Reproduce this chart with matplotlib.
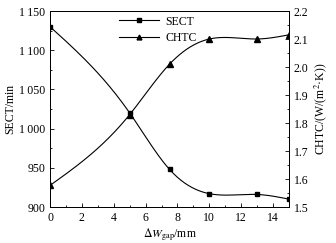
import matplotlib
matplotlib.use("Agg")
import matplotlib.pyplot as plt
import numpy as np
from matplotlib.ticker import MultipleLocator, FuncFormatter

plt.rcParams['font.family'] = ['Liberation Serif', 'DejaVu Serif']
plt.rcParams['mathtext.fontset'] = 'stix'
plt.rcParams['font.size'] = 8.5

# data
gap = [0, 5, 7.5, 10, 13, 15]
sect = [1130, 1020, 948, 917, 916, 910]
chtc = [1.577, 1.83, 2.01, 2.1, 2.1, 2.115]


def smooth(x, y, n=200):
    # natural cubic spline, only for drawing the curve
    x = np.asarray(x, float)
    y = np.asarray(y, float)
    k = len(x)
    h = np.diff(x)
    A = np.zeros((k, k))
    b = np.zeros(k)
    A[0, 0] = A[-1, -1] = 1
    for i in range(1, k - 1):
        A[i, i - 1] = h[i - 1]
        A[i, i] = 2 * (h[i - 1] + h[i])
        A[i, i + 1] = h[i]
        b[i] = 6 * ((y[i + 1] - y[i]) / h[i] - (y[i] - y[i - 1]) / h[i - 1])
    m = np.linalg.solve(A, b)
    xs = np.linspace(x[0], x[-1], n)
    j = np.clip(np.searchsorted(x, xs) - 1, 0, k - 2)
    t0 = x[j + 1] - xs
    t1 = xs - x[j]
    hj = h[j]
    ys = (m[j] * t0 ** 3 + m[j + 1] * t1 ** 3) / (6 * hj) \
        + (y[j] / hj - m[j] * hj / 6) * t0 + (y[j + 1] / hj - m[j + 1] * hj / 6) * t1
    return xs, ys


fig = plt.figure(figsize=(3.36, 2.43), dpi=100)
ax = fig.add_axes([50 / 336, 36 / 243, 239 / 336, 196 / 243])
ax2 = ax.twinx()

xs, ys = smooth(gap, sect)
ax.plot(xs, ys, color='black', lw=0.8)
ax.plot(gap, sect, 's', color='black', ms=3.5)
xs, ys = smooth(gap, chtc)
ax2.plot(xs, ys, color='black', lw=0.8)
ax2.plot(gap, chtc, '^', color='black', ms=4)

# legend proxies
ax.plot([], [], '-s', color='black', lw=0.8, ms=3, label='SECT')
ax.plot([], [], '-^', color='black', lw=0.8, ms=3.5, label='CHTC')
h, l = ax.get_legend_handles_labels()
ax.legend(h[-2:], l[-2:], loc='upper left', bbox_to_anchor=(0.25, 1.025), frameon=False,
          handlelength=3.4, handletextpad=0.5, labelspacing=0.35, borderpad=0.3, fontsize=8.5)

ax.set_xlim(0, 15)
ax.set_ylim(900, 1150)
ax2.set_ylim(1.5, 2.2)

ax.xaxis.set_major_locator(MultipleLocator(2))
ax.xaxis.set_minor_locator(MultipleLocator(1))
ax.yaxis.set_major_locator(MultipleLocator(50))
ax.yaxis.set_minor_locator(MultipleLocator(25))
ax2.yaxis.set_major_locator(MultipleLocator(0.1))
ax2.yaxis.set_minor_locator(MultipleLocator(0.05))


def fmt(v, pos):
    v = int(round(v))
    if v >= 1000:
        return '%d\u2009%03d' % (v // 1000, v % 1000)
    return str(v)


ax.yaxis.set_major_formatter(FuncFormatter(fmt))
ax2.yaxis.set_major_formatter(FuncFormatter(lambda v, p: '%.1f' % v))

for a in (ax, ax2):
    a.tick_params(which='both', direction='in', width=0.6)
    a.tick_params(which='major', length=3)
    a.tick_params(which='minor', length=1.5)
ax.tick_params(axis='both', which='both', top=False, right=False)
ax2.tick_params(axis='y', which='both', left=False, right=True)
for a in (ax, ax2):
    for s in a.spines.values():
        s.set_linewidth(0.7)

ax.set_xlabel(r'$\Delta W_{\mathrm{gap}}$/mm', labelpad=2)
ax.set_ylabel('SECT/min', labelpad=2)
ax2.set_ylabel('CHTC/(W/(m$^2$·K))', labelpad=3)

fig.savefig('out.png', dpi=100)
